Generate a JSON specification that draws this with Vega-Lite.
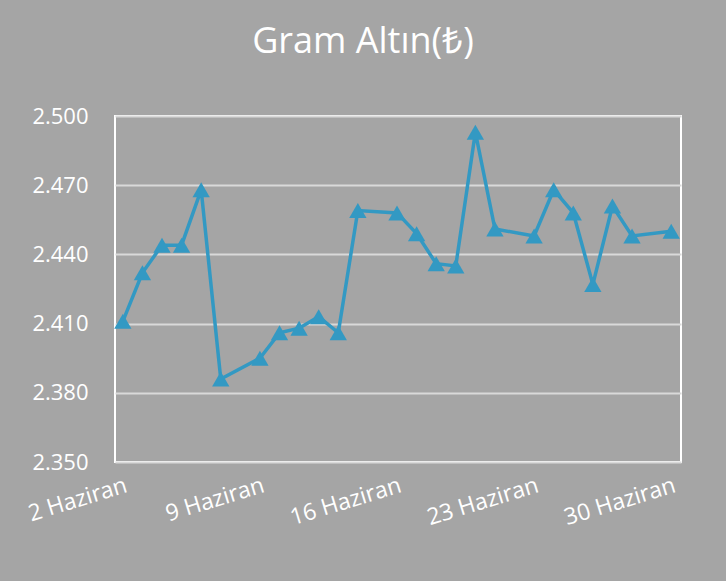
{
  "$schema": "https://vega.github.io/schema/vega-lite/v6.json",
  "autosize": {"type": "none"},
  "width": 566,
  "height": 346,
  "padding": {"left": 115, "top": 116, "right": 45, "bottom": 119},
  "background": "#a5a5a5",
  "title": {
    "text": "Gram Altın(₺)",
    "color": "#ffffff",
    "font": "Open Sans",
    "fontSize": 36,
    "fontWeight": "normal",
    "anchor": "middle",
    "dx": -35,
    "offset": 44
  },
  "config": {
    "view": {"stroke": "#ffffff", "strokeWidth": 2},
    "font": "Open Sans"
  },
  "data": {
    "values": [
      {"gun": 2, "fiyat": 2411},
      {"gun": 3, "fiyat": 2432},
      {"gun": 4, "fiyat": 2444},
      {"gun": 5, "fiyat": 2444},
      {"gun": 6, "fiyat": 2468},
      {"gun": 7, "fiyat": 2386},
      {"gun": 9, "fiyat": 2395},
      {"gun": 10, "fiyat": 2406},
      {"gun": 11, "fiyat": 2408},
      {"gun": 12, "fiyat": 2413},
      {"gun": 13, "fiyat": 2406},
      {"gun": 14, "fiyat": 2459},
      {"gun": 16, "fiyat": 2458},
      {"gun": 17, "fiyat": 2449},
      {"gun": 18, "fiyat": 2436},
      {"gun": 19, "fiyat": 2435},
      {"gun": 20, "fiyat": 2493},
      {"gun": 21, "fiyat": 2451},
      {"gun": 23, "fiyat": 2448},
      {"gun": 24, "fiyat": 2468},
      {"gun": 25, "fiyat": 2458},
      {"gun": 26, "fiyat": 2427},
      {"gun": 27, "fiyat": 2461},
      {"gun": 28, "fiyat": 2448},
      {"gun": 30, "fiyat": 2450}
    ]
  },
  "mark": {
    "type": "line",
    "color": "#3399c3",
    "strokeWidth": 3.5,
    "point": {"shape": "triangle-up", "size": 300, "filled": true, "color": "#3399c3", "opacity": 1}
  },
  "encoding": {
    "x": {
      "field": "gun",
      "type": "quantitative",
      "scale": {"domain": [1.6, 30.5], "nice": false, "zero": false},
      "axis": {
        "title": null,
        "values": [2, 9, 16, 23, 30],
        "labelExpr": "datum.value + ' Haziran'",
        "labelAngle": -17,
        "labelAlign": "right",
        "labelBaseline": "top",
        "labelColor": "#ffffff",
        "labelFontSize": 23,
        "labelPadding": 12,
        "labelOverlap": false,
        "labelFlush": false,
        "ticks": false,
        "grid": false,
        "domain": false
      }
    },
    "y": {
      "field": "fiyat",
      "type": "quantitative",
      "scale": {"domain": [2350, 2500], "nice": false, "zero": false},
      "axis": {
        "title": null,
        "values": [2350, 2380, 2410, 2440, 2470, 2500],
        "labelExpr": "replace(format(datum.value, ','), ',', '.')",
        "labelColor": "#ffffff",
        "labelFontSize": 22,
        "labelPadding": 27,
        "ticks": false,
        "domain": false,
        "grid": true,
        "gridColor": "#d9d9d9",
        "gridWidth": 2,
        "gridOpacity": 1
      }
    }
  }
}
